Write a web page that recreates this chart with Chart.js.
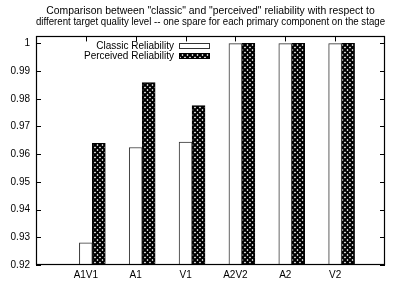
<!DOCTYPE html>
<html>
<head>
<meta charset="utf-8">
<script src="https://cdn.jsdelivr.net/npm/chart.js@4/dist/chart.umd.min.js"></script>
<style>
  html, body { margin: 0; padding: 0; background: #fff; }
  #wrap { width: 396px; height: 282px; }
</style>
</head>
<body>
<div id="wrap"><canvas id="c" width="396" height="282"></canvas></div>
<script>
// ---- data ----
const categories = ['A1V1', 'A1', 'V1', 'A2V2', 'A2', 'V2'];
const classicReliability = [0.9280, 0.9624, 0.9644, 0.9999, 0.9999, 0.9999];
const perceivedReliability = [0.9639, 0.9858, 0.9775, 1.0, 1.0, 1.0];
const yTickValues = [0.92, 0.93, 0.94, 0.95, 0.96, 0.97, 0.98, 0.99, 1];
const seriesLabels = ['Classic Reliability', 'Perceived Reliability'];
const titleLines = [
  'Comparison between "classic" and "perceived" reliability with respect to',
  'different target quality level -- one spare for each primary component on the stage'
];

const FONT = '"Liberation Sans", Arial, Helvetica, sans-serif';
const BAR_W = 0.26; // bar width in category units

function makePattern() {
  const s = 5;
  const c = document.createElement('canvas');
  c.width = s; c.height = s;
  const g = c.getContext('2d');
  g.fillStyle = '#fff';
  g.fillRect(0, 0, s, s);
  g.strokeStyle = '#000';
  g.lineWidth = 2.1;
  g.beginPath();
  g.moveTo(-1, -1); g.lineTo(s + 1, s + 1);
  g.moveTo(s + 1, -1); g.lineTo(-1, s + 1);
  g.stroke();
  return g.createPattern(c, 'repeat');
}
const ctx = document.getElementById('c').getContext('2d');
const hatch = makePattern();

const classicData = categories.map((c, i) => ({ x: i + 1, y: classicReliability[i] }));
const perceivedData = categories.map((c, i) => ({ x: i + 1 + BAR_W, y: perceivedReliability[i] }));

const frame = {
  id: 'frame',
  beforeDatasetsDraw(chart) {
    const { ctx, chartArea: a, scales } = chart;
    ctx.save();
    ctx.strokeStyle = '#000';
    ctx.lineWidth = 1;
    const L = 5;
    yTickValues.forEach(v => {
      const y = Math.round(scales.y.getPixelForValue(v)) + 0.5;
      ctx.beginPath();
      ctx.moveTo(a.left, y); ctx.lineTo(a.left + L, y);
      ctx.moveTo(a.right, y); ctx.lineTo(a.right - L, y);
      ctx.stroke();
    });
    categories.forEach((c, i) => {
      const x = Math.round(scales.x.getPixelForValue(i + 1)) + 0.5;
      ctx.beginPath();
      ctx.moveTo(x, a.bottom); ctx.lineTo(x, a.bottom - L);
      ctx.moveTo(x, a.top); ctx.lineTo(x, a.top + L);
      ctx.stroke();
    });
    ctx.restore();
  },
  afterDatasetsDraw(chart) {
    const { ctx, chartArea: a } = chart;
    ctx.save();
    ctx.strokeStyle = '#000';
    ctx.lineWidth = 1.2;
    ctx.strokeRect(Math.round(a.left) + 0.5, Math.round(a.top) + 0.5,
                   Math.round(a.right - a.left) - 1, Math.round(a.bottom - a.top) - 1);
    // key
    ctx.font = '10px ' + FONT;
    ctx.textAlign = 'right';
    ctx.textBaseline = 'middle';
    ctx.fillStyle = '#000';
    const ds = chart.data.datasets;
    const textX = 174, boxX = 179, boxW = 30, boxH = 5;
    const rows = [46, 56];
    ds.forEach((d, i) => {
      ctx.fillText(d.label, textX, rows[i]);
      ctx.fillStyle = d.backgroundColor;
      ctx.fillRect(boxX, rows[i] - 2.5, boxW, boxH);
      ctx.strokeStyle = d.borderColor;
      ctx.lineWidth = 1;
      ctx.strokeRect(boxX + 0.5, rows[i] - 2.5, boxW, boxH);
      ctx.fillStyle = '#000';
    });
    ctx.restore();
  }
};

new Chart(ctx, {
  type: 'bar',
  data: {
    datasets: [
      { label: seriesLabels[0], data: classicData, backgroundColor: '#ffffff',
        borderColor: '#333333', borderWidth: 1, grouped: false,
        categoryPercentage: 1, barPercentage: 1 },
      { label: seriesLabels[1], data: perceivedData, backgroundColor: hatch,
        borderColor: '#000000', borderWidth: 1, grouped: false,
        categoryPercentage: 1, barPercentage: 1 }
    ]
  },
  options: {
    responsive: false,
    animation: false,
    events: [],
    layout: { padding: { left: 0, right: 11, top: 0, bottom: 0 } },
    plugins: {
      legend: { display: false },
      tooltip: { enabled: false },
      title: {
        display: true,
        text: titleLines,
        fullSize: false,
        color: '#000',
        font: { family: FONT, size: 10.4, weight: 'normal', lineHeight: 1.03 },
        padding: { top: 6, bottom: 9 }
      }
    },
    scales: {
      x: {
        type: 'linear',
        offset: false,
        min: 0, max: 7,
        grid: { display: false, drawTicks: false, offset: false },
        border: { display: false },
        afterFit(s) { s.height = 17; },
        afterBuildTicks(s) { s.ticks = categories.map((c, i) => ({ value: i + 1 })); },
        ticks: {
          autoSkip: false, maxRotation: 0, padding: 4, color: '#000',
          font: { family: FONT, size: 10 },
          callback: v => categories[v - 1] ?? ''
        }
      },
      y: {
        type: 'linear',
        min: 0.92, max: 1.0025,
        grid: { display: false, drawTicks: false },
        border: { display: false },
        afterFit(s) { s.width = 36; },
        afterBuildTicks(s) { s.ticks = yTickValues.map(v => ({ value: v })); },
        ticks: {
          padding: 6, color: '#000',
          font: { family: FONT, size: 10 },
          callback: v => String(+v.toFixed(2))
        }
      }
    }
  },
  plugins: [frame]
});
</script>
</body>
</html>
